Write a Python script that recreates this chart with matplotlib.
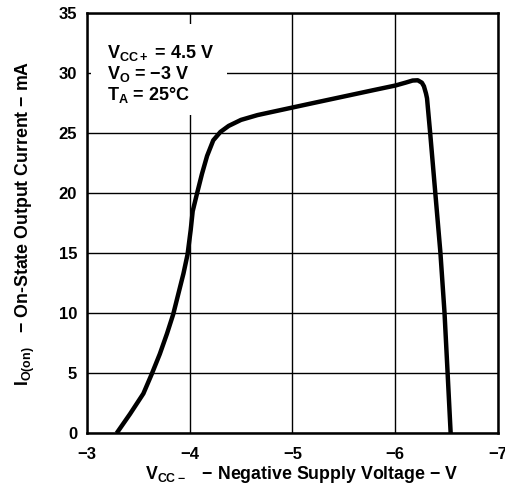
import matplotlib
matplotlib.use("Agg")
import matplotlib.pyplot as plt
from matplotlib.patches import Rectangle

plt.rcParams["font.family"] = ["Liberation Sans", "DejaVu Sans"]
plt.rcParams["font.weight"] = "bold"
plt.rcParams["mathtext.fontset"] = "custom"
plt.rcParams["mathtext.rm"] = "Liberation Sans:bold"
plt.rcParams["mathtext.it"] = "Liberation Sans:bold"
plt.rcParams["mathtext.bf"] = "Liberation Sans:bold"

# curve
vcc_neg = [-3.29, -3.42, -3.55, -3.63, -3.71, -3.78, -3.84, -3.89, -3.94, -3.98,
           -4.01, -4.03, -4.07, -4.12, -4.17, -4.23, -4.30, -4.38, -4.50, -4.66,
           -4.80, -5.00, -5.20, -5.50, -5.80, -6.00, -6.10, -6.17, -6.22, -6.26,
           -6.28, -6.30, -6.31, -6.34, -6.39, -6.44, -6.48, -6.51, -6.54]
i_on = [0.0, 1.6, 3.3, 4.9, 6.6, 8.3, 9.9, 11.6, 13.3, 14.9,
        16.9, 18.5, 19.9, 21.6, 23.1, 24.4, 25.1, 25.6, 26.1, 26.5,
        26.76, 27.13, 27.5, 28.05, 28.6, 28.96, 29.2, 29.38, 29.4, 29.2,
        28.9, 28.3, 27.9, 25.07, 20.07, 15.07, 10.07, 5.07, 0.0]

x_ticks = [-3, -4, -5, -6, -7]
x_labels = ["\u22123", "\u22124", "\u22125", "\u22126", "\u22127"]
y_ticks = [0, 5, 10, 15, 20, 25, 30, 35]
conditions = [r"$\mathrm{V_{CC+}}$ = 4.5 V", "$\\mathrm{V_O}$ = \u22123 V", r"$\mathrm{T_A}$ = 25°C"]

fig = plt.figure(figsize=(5.05, 4.84), dpi=100)
ax = fig.add_axes([0.172, 0.105, 0.814, 0.868])

ax.set_xlim(-3, -7)
ax.set_ylim(0, 35)
ax.set_xticks(x_ticks)
ax.set_xticklabels(x_labels)
ax.set_yticks(y_ticks)
ax.tick_params(length=0, labelsize=12)
ax.tick_params(axis="x", pad=10)
ax.tick_params(axis="y", pad=7)
for lab in ax.get_xticklabels() + ax.get_yticklabels():
    lab.set_fontweight("bold")
ax.grid(True, color="black", linewidth=1.0)
ax.set_axisbelow(True)
for sp in ax.spines.values():
    sp.set_linewidth(1.8)

# white area behind the conditions text
ax.add_patch(Rectangle((-3.04, 26.5), -1.32, 7.6, facecolor="white",
                       edgecolor="none", zorder=1.5))

ax.plot(vcc_neg, i_on, color="black", linewidth=3.2, zorder=3,
        solid_capstyle="butt", solid_joinstyle="round")

for k, txt in enumerate(conditions):
    ax.text(-3.2, 31.7 - k * 1.75, txt, fontsize=13, fontweight="bold",
            va="center", ha="left", zorder=4)

ax.set_xlabel("$\\mathrm{V_{CC-}}$   \u2212 Negative Supply Voltage \u2212 V",
              fontsize=12.8, fontweight="bold")
ax.xaxis.set_label_coords(0.523, -0.074)
ax.set_ylabel("$\\mathrm{I_{O(on)}}$   \u2212 On-State Output Current \u2212 mA",
              fontsize=12.8, fontweight="bold")
ax.yaxis.set_label_coords(-0.122, 0.5)

fig.savefig("out.png", dpi=100)
